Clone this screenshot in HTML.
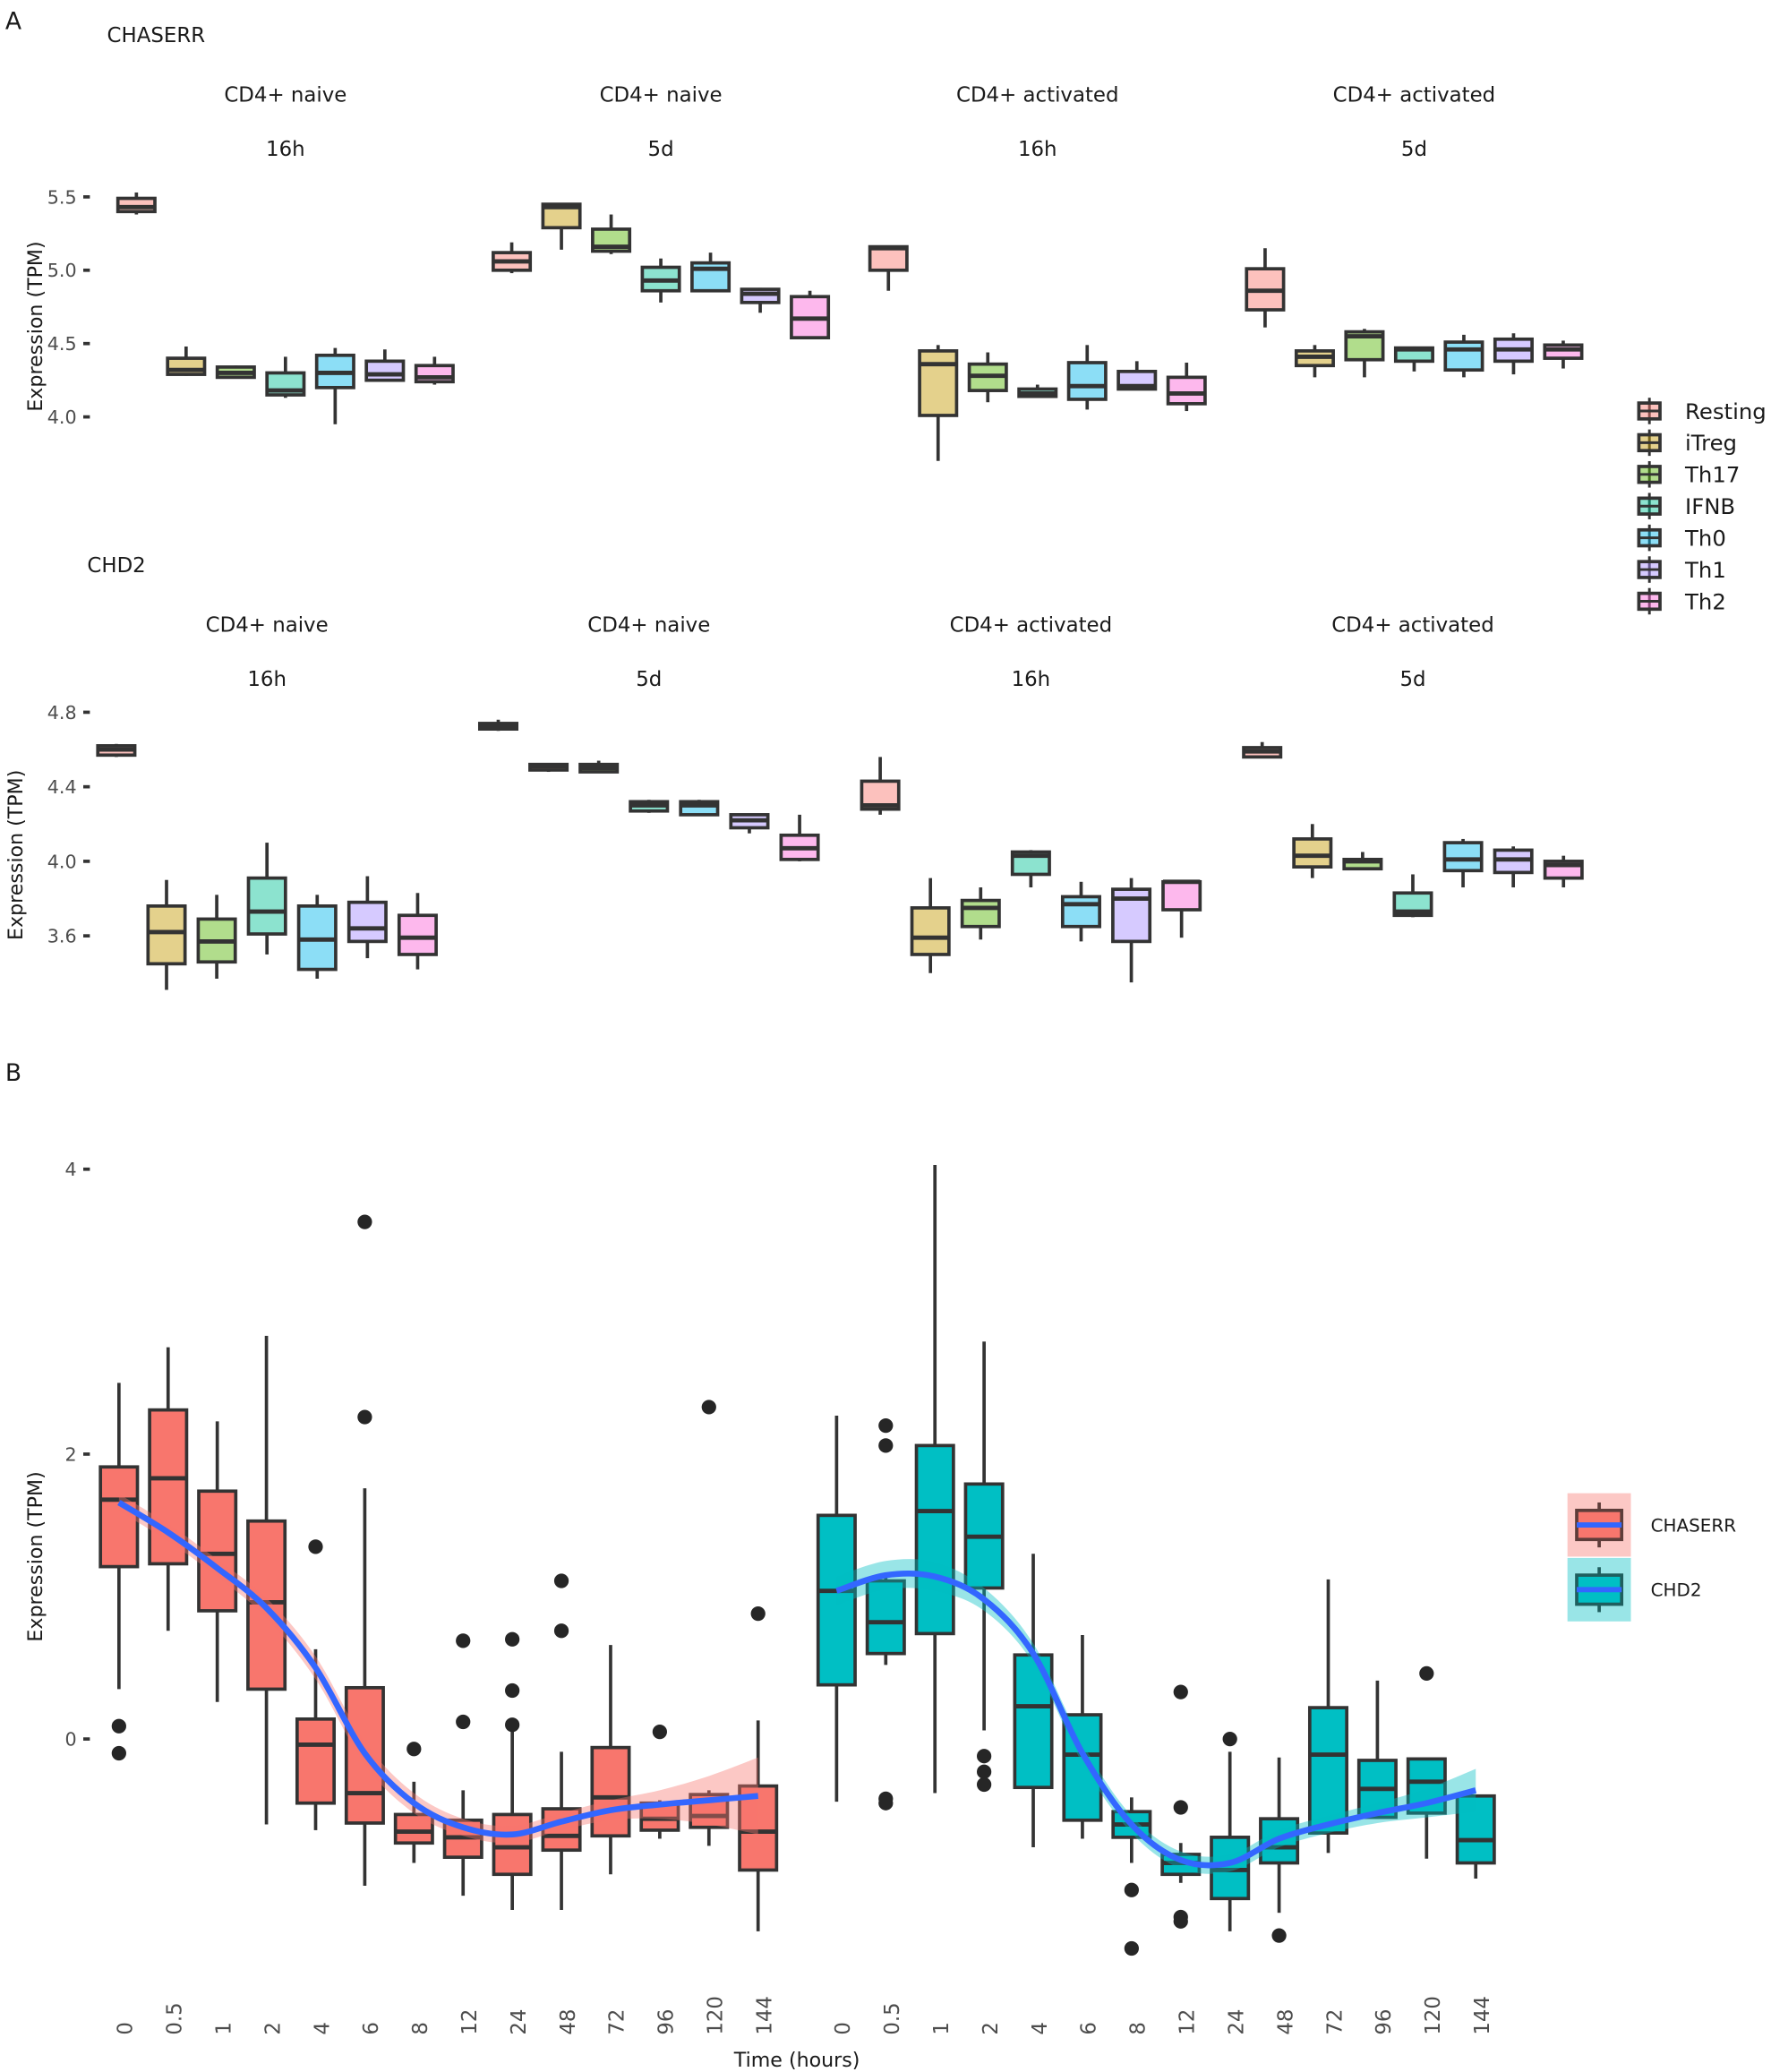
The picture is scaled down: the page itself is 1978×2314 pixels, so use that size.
<!DOCTYPE html>
<html><head><meta charset="utf-8"><style>
html,body{margin:0;padding:0;background:#fff}
svg{display:block;font-family:"DejaVu Sans","Liberation Sans",sans-serif}
.tk{font-size:14px;fill:#4d4d4d}
.lb{font-size:15.5px;fill:#1a1a1a}
</style></head><body>
<svg id="fig" width="1978" height="2314" viewBox="0 0 1340 1568" preserveAspectRatio="none" xmlns="http://www.w3.org/2000/svg">
<text x="4" y="22" class="lb" style="font-size:18px">A</text>
<text x="4" y="818" class="lb" style="font-size:18px">B</text>
<text x="81" y="32" class="lb">CHASERR</text>
<text x="66" y="433" class="lb">CHD2</text>
<text transform="translate(32,247) rotate(-90)" text-anchor="middle" class="lb" style="font-size:15px">Expression (TPM)</text>
<text transform="translate(17,647) rotate(-90)" text-anchor="middle" class="lb" style="font-size:15px">Expression (TPM)</text>
<text transform="translate(32,1178) rotate(-90)" text-anchor="middle" class="lb" style="font-size:15px">Expression (TPM)</text>
<text x="603" y="1564" text-anchor="middle" class="lb" style="font-size:15px">Time (hours)</text>
<g id="gA"></g><g id="gB"></g><g id="legA"></g><g id="legB"></g>
</svg>
<script>
const NS='http://www.w3.org/2000/svg';
function mk(tag,attrs,parent){const e=document.createElementNS(NS,tag);for(const k in attrs)e.setAttribute(k,attrs[k]);parent.appendChild(e);return e;}

// ---------- Panel A data ----------
const groups=['Resting','iTreg','Th17','IFNB','Th0','Th1','Th2'];
const groupColors=['#F8766D','#C49A00','#53B400','#00C094','#00B6EB','#A58AFF','#FB61D7'];
const facetTop=['CD4+ naive','CD4+ naive','CD4+ activated','CD4+ activated'];
const facetBottom=['16h','5d','16h','5d'];
const chaserrTicks=[4.0,4.5,5.0,5.5];
const chd2Ticks=[3.6,4.0,4.4,4.8];
// each box: [whiskerLow, q1, median, q3, whiskerHigh]
const chaserrF1=[[5.38,5.40,5.43,5.49,5.53],[4.28,4.29,4.32,4.40,4.48],[4.26,4.27,4.30,4.34,4.35],[4.13,4.15,4.18,4.30,4.41],[3.95,4.20,4.30,4.42,4.47],[4.24,4.25,4.29,4.38,4.46],[4.22,4.24,4.27,4.35,4.41]];
const chaserrF2=[[4.98,5.00,5.06,5.12,5.19],[5.14,5.29,5.43,5.45,5.45],[5.11,5.13,5.16,5.28,5.38],[4.78,4.86,4.93,5.02,5.08],[4.85,4.86,5.01,5.05,5.12],[4.71,4.78,4.84,4.87,4.88],[4.53,4.54,4.67,4.82,4.86]];
const chaserrF3=[[4.86,5.00,5.15,5.16,5.16],[3.70,4.01,4.36,4.45,4.49],[4.10,4.18,4.28,4.36,4.44],[4.13,4.14,4.16,4.19,4.22],[4.05,4.12,4.21,4.37,4.49],[4.19,4.19,4.21,4.31,4.38],[4.04,4.09,4.16,4.27,4.37]];
const chaserrF4=[[4.61,4.73,4.86,5.01,5.15],[4.27,4.35,4.41,4.45,4.49],[4.27,4.39,4.55,4.58,4.60],[4.31,4.38,4.46,4.47,4.48],[4.27,4.32,4.46,4.51,4.56],[4.29,4.38,4.46,4.53,4.57],[4.33,4.40,4.46,4.49,4.52]];
const chd2F1=[[4.56,4.57,4.60,4.62,4.63],[3.31,3.45,3.62,3.76,3.90],[3.37,3.46,3.57,3.69,3.82],[3.50,3.61,3.73,3.91,4.10],[3.37,3.42,3.58,3.76,3.82],[3.48,3.57,3.64,3.78,3.92],[3.42,3.50,3.59,3.71,3.83]];
const chd2F2=[[4.70,4.71,4.73,4.74,4.76],[4.48,4.49,4.51,4.52,4.52],[4.48,4.48,4.50,4.52,4.54],[4.26,4.27,4.30,4.32,4.33],[4.25,4.25,4.30,4.32,4.33],[4.15,4.18,4.22,4.25,4.25],[4.00,4.01,4.07,4.14,4.25]];
const chd2F3=[[4.25,4.28,4.30,4.43,4.56],[3.40,3.50,3.59,3.75,3.91],[3.58,3.65,3.75,3.79,3.86],[3.86,3.93,4.03,4.05,4.06],[3.57,3.65,3.77,3.81,3.89],[3.35,3.57,3.80,3.85,3.91],[3.59,3.74,3.89,3.89,3.89]];
const chd2F4=[[4.56,4.56,4.59,4.61,4.64],[3.91,3.97,4.03,4.12,4.20],[3.96,3.96,4.00,4.01,4.05],[3.70,3.71,3.73,3.83,3.93],[3.86,3.95,4.01,4.10,4.12],[3.86,3.94,4.01,4.06,4.08],[3.86,3.91,3.98,4.00,4.03]];

// ---------- Panel B data ----------
const timeLabels=['0','0.5','1','2','4','6','8','12','24','48','72','96','120','144'];
const bTicks=[0,2,4];
const chaserrB=[[0.35,1.21,1.68,1.91,2.5],[0.76,1.23,1.83,2.31,2.75],[0.26,0.90,1.30,1.74,2.23],[-0.6,0.35,0.96,1.53,2.83],[-0.64,-0.45,-0.04,0.14,0.63],[-1.03,-0.59,-0.38,0.36,1.76],[-0.87,-0.73,-0.65,-0.53,-0.3],[-1.1,-0.83,-0.69,-0.57,-0.36],[-1.2,-0.95,-0.76,-0.53,0.1],[-1.2,-0.78,-0.68,-0.49,-0.09],[-0.95,-0.68,-0.41,-0.06,0.66],[-0.7,-0.64,-0.56,-0.45,-0.43],[-0.75,-0.62,-0.54,-0.39,-0.36],[-1.35,-0.92,-0.65,-0.33,0.13]];
const chaserrOut=[[0.09,-0.1],[],[],[],[1.35],[3.63,2.26],[-0.07],[0.69,0.12],[0.7,0.34,0.1],[1.11,0.76],[],[0.05],[2.33],[0.88]];
const chaserrSmooth=[1.66,1.45,1.2,0.92,0.5,-0.1,-0.45,-0.62,-0.67,-0.58,-0.5,-0.46,-0.43,-0.4];
const chaserrSE=[0.06,0.06,0.06,0.07,0.08,0.08,0.07,0.06,0.06,0.06,0.07,0.1,0.17,0.27];
const chd2B=[[-0.44,0.38,1.04,1.57,2.27],[0.52,0.6,0.82,1.11,1.15],[-0.38,0.74,1.6,2.06,4.03],[0.06,1.06,1.42,1.79,2.79],[-0.76,-0.34,0.23,0.59,1.3],[-0.7,-0.57,-0.11,0.17,0.73],[-0.87,-0.69,-0.6,-0.51,-0.41],[-1.01,-0.95,-0.87,-0.81,-0.73],[-1.35,-1.12,-0.92,-0.69,-0.09],[-1.22,-0.87,-0.76,-0.56,-0.13],[-0.8,-0.66,-0.11,0.22,1.12],[-0.56,-0.55,-0.35,-0.15,0.41],[-0.84,-0.52,-0.3,-0.14,-0.14],[-0.98,-0.87,-0.71,-0.4,-0.4]];
const chd2Out=[[],[2.2,2.06,-0.42,-0.45],[],[-0.12,-0.23,-0.32],[],[],[-1.06,-1.47],[0.33,-0.48,-1.25,-1.28],[0.0],[-1.38],[],[],[0.46],[]];
const chd2Smooth=[1.04,1.15,1.14,0.98,0.6,-0.1,-0.6,-0.85,-0.87,-0.7,-0.6,-0.52,-0.45,-0.36];
const chd2SE=[0.1,0.1,0.1,0.08,0.07,0.07,0.06,0.06,0.06,0.06,0.06,0.07,0.1,0.15];

// ---------- drawing ----------
const gA=document.getElementById('gA');
function drawBox(g,cx,w,b,yf,fill,op,sw,name){
  const bg=mk('g',{},g);
  
  
  mk('line',{x1:cx,x2:cx,y1:yf(b[4]),y2:yf(b[3]),stroke:'#333',"stroke-width":sw},bg);
  mk('line',{x1:cx,x2:cx,y1:yf(b[1]),y2:yf(b[0]),stroke:'#333',"stroke-width":sw},bg);
  mk('rect',{x:cx-w/2,y:yf(b[3]),width:w,height:Math.max(0.5,yf(b[1])-yf(b[3])),fill:fill,"fill-opacity":op,stroke:'#333',"stroke-width":sw},bg);
  mk('line',{x1:cx-w/2,x2:cx+w/2,y1:yf(b[2]),y2:yf(b[2]),stroke:'#333',"stroke-width":sw+0.8},bg);
}
function axisTicks(g,ticks,yf,xr,dec,name){
  ticks.forEach(t=>{
    const tt=mk('text',{x:xr-10,y:yf(t)+5,"text-anchor":"end",class:"tk"},g);
    tt.textContent=t.toFixed(dec);
    
    
    mk('line',{x1:xr-5,x2:xr,y1:yf(t),y2:yf(t),stroke:'#333',"stroke-width":2.5},g);
  });
}
// CHASERR
const yC=v=>149+(5.5-v)*111;
axisTicks(gA,chaserrTicks,yC,68,1,'chaserr-y');
const cF=[chaserrF1,chaserrF2,chaserrF3,chaserrF4];
const cCent=[216,500,785,1070];
cF.forEach((f,fi)=>{
  const s1=mk('text',{x:cCent[fi],y:77,"text-anchor":"middle",class:"lb"},gA);s1.textContent=facetTop[fi];
  
  
  const s2=mk('text',{x:cCent[fi],y:118,"text-anchor":"middle",class:"lb"},gA);s2.textContent=facetBottom[fi];
  
  
  f.forEach((b,i)=>{drawBox(gA,cCent[fi]+(i-3)*37.6,28,b,yC,groupColors[i],0.45,2.5,'chaserr-box-'+groups[i].toLowerCase());});
});
// CHD2
const yD=v=>539+(4.8-v)*141;
axisTicks(gA,chd2Ticks,yD,68,1,'chd2-y');
const dF=[chd2F1,chd2F2,chd2F3,chd2F4];
const dCent=[202,491,780,1069];
dF.forEach((f,fi)=>{
  const s1=mk('text',{x:dCent[fi],y:478,"text-anchor":"middle",class:"lb"},gA);s1.textContent=facetTop[fi];
  
  
  const s2=mk('text',{x:dCent[fi],y:519,"text-anchor":"middle",class:"lb"},gA);s2.textContent=facetBottom[fi];
  
  
  f.forEach((b,i)=>{drawBox(gA,dCent[fi]+(i-3)*38,28,b,yD,groupColors[i],0.45,2.5,'chd2-box-'+groups[i].toLowerCase());});
});
// Legend A
const legA=document.getElementById('legA');
groups.forEach((gname,i)=>{
  const y=311+i*24;
  const lg=mk('g',{},legA);
  
  
  mk('line',{x1:1248,x2:1248,y1:y-10,y2:y+10,stroke:'#333',"stroke-width":2},lg);
  mk('rect',{x:1240,y:y-6,width:16,height:12,fill:groupColors[i],"fill-opacity":0.45,stroke:'#333',"stroke-width":2.5},lg);
  mk('line',{x1:1240,x2:1256,y1:y,y2:y,stroke:'#333',"stroke-width":2},lg);
  const t=mk('text',{x:1275,y:y+6,class:"lb",style:"font-size:16.5px"},lg);t.textContent=gname;
});

// Panel B
const gB=document.getElementById('gB');
const yB=v=>1316-v*107.8;
axisTicks(gB,bTicks,yB,68,0,'b-y');
function smoothPath(pts){
  let d='M'+pts[0][0]+','+pts[0][1];
  for(let i=0;i<pts.length-1;i++){
    const p0=pts[Math.max(0,i-1)],p1=pts[i],p2=pts[i+1],p3=pts[Math.min(pts.length-1,i+2)];
    const c1=[p1[0]+(p2[0]-p0[0])/6,p1[1]+(p2[1]-p0[1])/6],c2=[p2[0]-(p3[0]-p1[0])/6,p2[1]-(p3[1]-p1[1])/6];
    d+=' C'+c1[0]+','+c1[1]+' '+c2[0]+','+c2[1]+' '+p2[0]+','+p2[1];
  }
  return d;
}
function drawGene(boxes,outs,sm,se,x0,fill,ribbon,gname){
  const xs=i=>x0+i*37.2;
  boxes.forEach((b,i)=>{
    drawBox(gB,xs(i),28,b,yB,fill,1,2.5,gname+'-box-'+timeLabels[i]);
    outs[i].forEach(o=>{
      const c=mk('circle',{cx:xs(i),cy:yB(o),r:5.5,fill:'#262626'},gB);
      
      
    });
    const t=mk('text',{transform:'translate('+(xs(i)+10)+',1540) rotate(-90)',class:"tk",style:"font-size:15.5px"},gB);
    t.textContent=timeLabels[i];
    
    
  });
  const up=sm.map((v,i)=>[xs(i),yB(v+se[i])]);
  const lo=sm.map((v,i)=>[xs(i),yB(v-se[i])]).reverse();
  const rb=mk('path',{d:smoothPath(up)+' L'+smoothPath(lo).slice(1)+' Z',fill:ribbon,"fill-opacity":0.4,stroke:'none'},gB);
  
  
  const ln=mk('path',{d:smoothPath(sm.map((v,i)=>[xs(i),yB(v)])),fill:'none',stroke:'#3366FF',"stroke-width":4.5},gB);
  
  
}
drawGene(chaserrB,chaserrOut,chaserrSmooth,chaserrSE,90,'#F8766D','#F8766D','chaserr');
drawGene(chd2B,chd2Out,chd2Smooth,chd2SE,633,'#00BFC4','#00BFC4','chd2');
// Legend B
const legB=document.getElementById('legB');
[['CHASERR','#F8766D','#5e3d3a'],['CHD2','#00BFC4','#1f5e5e']].forEach((e,i)=>{
  const y=1154+i*49;
  const lg=mk('g',{},legB);
  
  
  mk('rect',{x:1186,y:y-24,width:48,height:48,fill:e[1],"fill-opacity":0.4},lg);
  mk('line',{x1:1210,x2:1210,y1:y-17,y2:y+17,stroke:e[2],"stroke-width":2.5},lg);
  mk('rect',{x:1193,y:y-11,width:34,height:22,fill:e[1],stroke:e[2],"stroke-width":2.5},lg);
  mk('line',{x1:1193,x2:1227,y1:y,y2:y,stroke:'#3366FF',"stroke-width":4},lg);
  const t=mk('text',{x:1249,y:y+5,class:"lb",style:"font-size:13.5px"},lg);t.textContent=e[0];
});
</script>
</body></html>
